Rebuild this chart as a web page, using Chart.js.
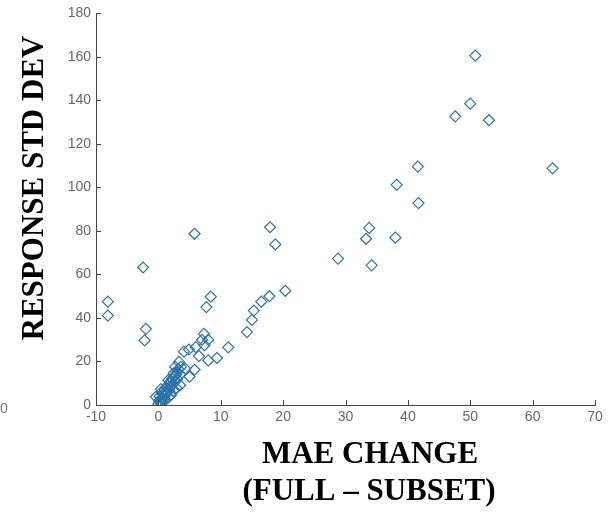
<!DOCTYPE html>
<html>
<head>
<meta charset="utf-8">
<script src="https://cdn.jsdelivr.net/npm/chart.js@4"></script>
<style>
  html, body { margin: 0; padding: 0; background: #fff; }
  #wrap { width: 615px; height: 513px; position: relative; }
</style>
</head>
<body>
<div id="wrap"><canvas id="chart"></canvas></div>
<script>
// MAE change (full - subset) vs response std dev
const maeChange = [
  -8.1, -8.1, -2.45, -2.0, -2.2, 5.8, 17.9, 18.75, 20.35, 17.8,
  16.5, 15.3, 15.0, 14.2, 8.4, 7.7, 11.2, 9.4, 8.0, 7.3,
  7.0, 8.0, 7.4, 6.5, 6.0, 4.9, 4.1, 5.8, 5.0, 4.3,
  3.5, 3.3, 2.7, 41.6, 38.2, 41.7, 33.8, 33.3, 38.0, 28.8,
  34.2, 50.8, 50.0, 47.6, 53.0, 63.2,
  0.0, 0.1, 0.2, 0.3, 0.5, 0.5, 0.7, 0.8, 1.0, 1.0,
  1.2, 1.3, 1.5, 1.5, 1.7, 1.8, 2.0, 2.0, 2.2, 2.3,
  2.5, 2.6, 2.8, 3.0, 3.0, 3.2, 3.5, 1.1, 0.6, -0.4,
  0.4, 1.6, 2.4, 2.9, 3.6, 2.0, 2.45, 1.6, 0.2
];
const stdDev = [
  47.5, 41.1, 63.2, 35.0, 29.7, 78.7, 81.7, 73.8, 52.5, 50.0,
  47.5, 43.4, 39.1, 33.5, 49.8, 45.0, 26.5, 21.6, 20.5, 32.7,
  30.0, 30.0, 27.5, 22.5, 26.6, 25.5, 24.5, 16.2, 13.0, 16.7,
  9.1, 19.8, 17.5, 109.6, 101.2, 92.8, 81.4, 76.4, 76.9, 67.3,
  64.2, 160.6, 138.5, 132.7, 130.9, 108.8,
  0.5, 2.0, 4.0, 1.0, 3.0, 6.0, 5.0, 2.5, 7.0, 4.0,
  5.5, 8.0, 6.0, 9.0, 7.0, 10.0, 8.5, 11.0, 12.0, 9.5,
  13.0, 10.5, 14.0, 12.0, 15.0, 16.5, 14.0, 2.5, 0.8, 3.8,
  7.3, 3.5, 6.5, 7.8, 17.5, 4.5, 14.5, 11.4, 1.5
];
const xTicks = [-10, 0, 10, 20, 30, 40, 50, 60, 70];
const yTicks = [0, 20, 40, 60, 80, 100, 120, 140, 160, 180];
const xTitle = ["MAE CHANGE", "(FULL \u2013 SUBSET)"];
const yTitle = "RESPONSE STD DEV";

const points = maeChange.map((x, i) => ({ x: x, y: stdDev[i] }));

// inward tick marks, axis titles, stray label at the left edge
const decor = {
  id: "decor",
  afterDraw(chart) {
    const ctx = chart.ctx;
    const xs = chart.scales.x, ys = chart.scales.y;
    const a = chart.chartArea;
    ctx.save();
    ctx.strokeStyle = "#444";
    ctx.lineWidth = 1;
    ctx.beginPath();
    xTicks.forEach(v => {
      const px = Math.round(xs.getPixelForValue(v)) + 0.5;
      ctx.moveTo(px, a.bottom);
      ctx.lineTo(px, a.bottom - 5);
    });
    yTicks.forEach(v => {
      const py = Math.round(ys.getPixelForValue(v)) + 0.5;
      ctx.moveTo(a.left, py);
      ctx.lineTo(a.left + 5, py);
    });
    ctx.stroke();

    ctx.fillStyle = "#000";
    ctx.font = "bold 31px 'Liberation Serif'";
    ctx.textAlign = "center";
    ctx.textBaseline = "middle";
    ctx.fillText(xTitle[0], a.left + 274, 455);
    ctx.fillText(xTitle[1], a.left + 273, 492);

    ctx.translate(35, 188);
    ctx.rotate(-Math.PI / 2);
    ctx.fillText(yTitle, 0, 0);
    ctx.restore();

    ctx.save();
    ctx.fillStyle = "#777";
    ctx.font = "14px 'Liberation Sans'";
    ctx.textBaseline = "middle";
    ctx.fillText("0", 0, 409);
    ctx.restore();
  }
};

new Chart(document.getElementById("chart"), {
  type: "scatter",
  data: {
    datasets: [{
      data: points,
      pointStyle: "rectRot",
      pointRadius: 5.5,
      pointBorderWidth: 1.2,
      pointBorderColor: "#2a72a8",
      pointBackgroundColor: "rgba(0,0,0,0)",
      pointHoverRadius: 5.5,
    }],
  },
  options: {
    responsive: true,
    maintainAspectRatio: false,
    animation: false,
    layout: { padding: { top: 11, right: 20, left: 0, bottom: 0 } },
    plugins: { legend: { display: false }, tooltip: { enabled: false } },
    scales: {
      x: {
        type: "linear",
        min: -10,
        max: 70,
        afterFit(scale) { scale.height = 108; },
        afterBuildTicks(scale) { scale.ticks = xTicks.map(v => ({ value: v })); },
        grid: { display: true, drawOnChartArea: false, drawTicks: false },
        border: { display: true, color: "#444", width: 1 },
        ticks: { color: "#666", font: { family: "Liberation Sans", size: 14 }, padding: 4, maxRotation: 0 },
      },
      y: {
        type: "linear",
        min: 0,
        max: 180,
        afterFit(scale) { scale.width = 96; },
        afterBuildTicks(scale) { scale.ticks = yTicks.map(v => ({ value: v })); },
        grid: { display: true, drawOnChartArea: false, drawTicks: false },
        border: { display: true, color: "#444", width: 1 },
        ticks: { color: "#666", font: { family: "Liberation Sans", size: 14 }, padding: 5 },
      },
    },
  },
  plugins: [decor],
});
</script>
</body>
</html>
